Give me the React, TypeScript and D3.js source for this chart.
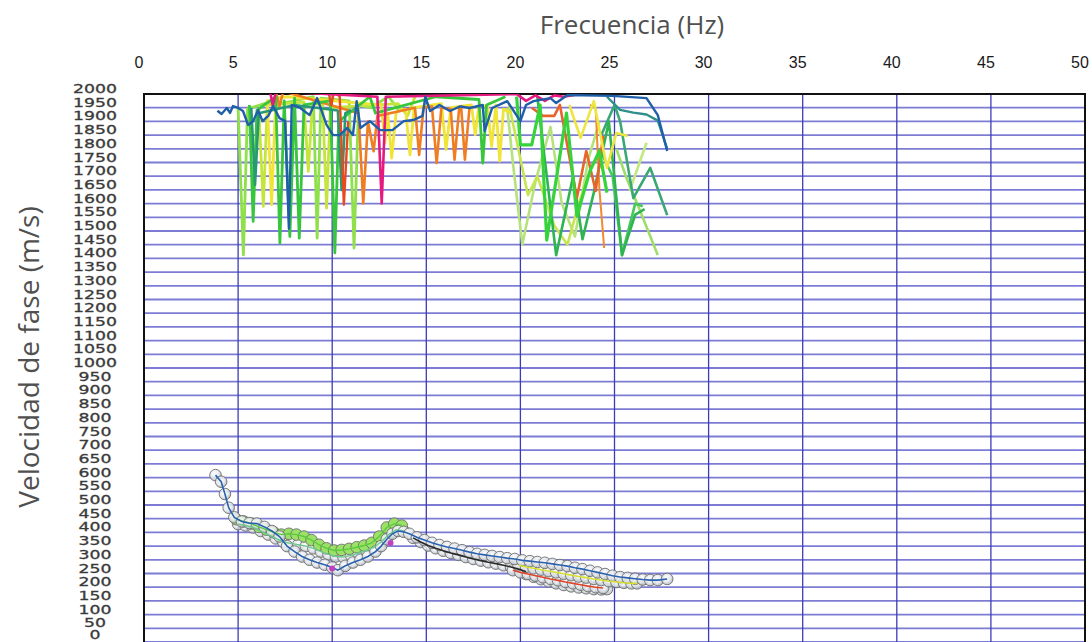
import React from 'react';
import * as d3 from 'd3';

type Pt = [number, number];

const WIDTH = 1092;
const HEIGHT = 642;

// Axis ticks
const freqTicks = [0, 5, 10, 15, 20, 25, 30, 35, 40, 45, 50];

// ---- Upper band: noisy phase-velocity picks (Hz, m/s) ----
const blueTrace: Pt[] = [
  [3.9, 1939], [4.12, 1927], [4.4, 1949], [4.57, 1931], [4.73, 1956], [5.0, 1949], [5.26, 1938],
  [5.53, 1887], [5.8, 1901], [6.06, 1941], [6.3, 1901], [6.6, 1920], [6.86, 1956], [7.2, 1912],
  [7.5, 1901], [7.7, 1508], [7.85, 1960], [8.3, 1949], [8.8, 1923], [9.2, 1985], [9.7, 1887],
  [10.05, 1850], [10.4, 1850], [10.8, 1876], [11.1, 1850], [11.3, 1974], [11.5, 1876], [12.0, 1901],
  [12.55, 1868], [13.2, 1868], [13.8, 1901], [14.3, 1905], [14.8, 1920], [14.95, 1990], [15.2, 1938],
  [15.7, 1960], [16.25, 1938], [16.8, 1955], [17.3, 1949], [18.0, 1960], [18.1, 1865], [18.5, 1949],
  [19.3, 1974], [20.0, 1901], [20.3, 1960], [20.7, 1974], [21.6, 1985], [21.9, 1967], [22.5, 1996],
  [24.9, 1993], [26.7, 1985], [27.3, 1923], [27.8, 1792],
];
const tealTrace: Pt[] = [
  [24.6, 1990], [25.3, 1942], [26.0, 1932], [26.7, 1925], [27.3, 1903], [27.8, 1800],
];
const lightGreenTrace: Pt[] = [
  [5.0, 1950], [5.28, 1413], [5.5, 1945], [6.6, 1970], [7.0, 1960], [9.0, 1990], [9.2, 1474],
  [9.4, 1985], [10.9, 1975], [11.16, 1438], [11.4, 1960], [12.0, 1950], [13.0, 1990], [13.6, 1935],
];
const greenTrace: Pt[] = [
  [5.6, 1960], [5.8, 1535], [6.0, 1940], [7.0, 1990], [7.22, 1456], [7.45, 1975], [7.75, 1480],
  [8.0, 1985], [8.25, 1474], [8.5, 1960], [9.9, 1975], [10.14, 1420], [10.35, 1900], [12.0, 1990],
  [12.3, 1930], [15.5, 1990], [17.8, 1980], [18.0, 1748], [18.2, 1960], [19.2, 1990],
];
const darkGreenTrace: Pt[] = [
  [5.7, 1950], [5.9, 1669], [6.1, 1930], [8.0, 1960], [10.3, 1940], [10.5, 1650], [10.7, 1930],
  [11.0, 1940],
];
const yellowGreenTrace: Pt[] = [
  [6.1, 1950], [6.34, 1590], [6.55, 1960], [8.5, 1970], [8.73, 1718], [8.95, 1965], [9.5, 1960],
  [9.7, 1584], [9.9, 1950], [13.5, 1965], [14.0, 1920], [14.4, 1990],
];
const yellowTrace: Pt[] = [
  [6.55, 1980], [6.78, 1596], [7.0, 1985], [7.6, 1990], [12.6, 1960], [12.8, 1821], [12.95, 1930],
  [13.16, 1766], [13.4, 1935], [13.9, 1945], [14.13, 1778], [14.35, 1950], [15.8, 1965],
  [16.05, 1797], [16.3, 1950], [17.4, 1960], [17.6, 1851], [17.8, 1960], [18.25, 1955],
  [18.47, 1809], [18.7, 1960], [18.9, 1755], [19.1, 1945], [19.5, 1930],
];
const orangeTrace: Pt[] = [
  [7.0, 2010], [7.2, 1955], [7.4, 2010], [11.4, 1930], [11.65, 1601], [11.9, 1900], [12.2, 1791],
  [12.4, 1920], [14.4, 1950], [14.62, 1778], [14.85, 1950], [15.3, 1955], [15.55, 1748],
  [15.8, 1950], [16.3, 1945], [16.5, 1760], [16.75, 1950], [16.85, 1955], [17.05, 1760],
  [17.3, 1955],
];
const redTrace: Pt[] = [
  [9.8, 2010], [9.95, 1960], [10.1, 2010], [10.4, 1990], [10.62, 1596], [10.85, 1900],
];
const magentaTrace: Pt[] = [
  [6.7, 2010], [6.85, 1955], [7.0, 2010], [12.4, 1990], [12.63, 1601], [12.85, 1990],
  [19.8, 2000], [20.3, 1975], [20.8, 1995], [21.3, 1975], [21.8, 1995], [22.3, 1990], [23.0, 1998],
];
// Traces between 19 and 28 Hz
const paleGreenTrace: Pt[] = [
  [19.3, 1950], [19.6, 1750], [20.1, 1450], [20.8, 1680], [21.6, 1880], [22.2, 1600],
  [22.9, 1480], [23.6, 1760], [24.2, 1900],
];
const brightGreenTrace: Pt[] = [
  [19.8, 1990], [20.0, 1814], [20.6, 1814], [21.05, 1960], [21.4, 1467], [22.45, 1930],
  [23.0, 1555], [23.7, 1720], [24.2, 1792], [24.6, 1640],
];
const midGreenTrace: Pt[] = [
  [20.9, 1990], [21.9, 1412], [22.8, 1700], [23.3, 1470], [23.9, 1640], [24.7, 1900],
  [25.4, 1412], [26.1, 1560], [26.6, 1580],
];
const limeTrace: Pt[] = [
  [19.4, 1960], [20.4, 1631], [20.9, 1700], [21.8, 1520], [22.5, 1450], [23.1, 1600], [23.6, 1700],
];
const orangeRedTrace: Pt[] = [
  [20.6, 1950], [21.2, 1920], [21.8, 1920], [22.1, 1960], [23.0, 1620], [23.5, 1792],
  [24.0, 1646], [24.4, 1847],
];
const thinOrangeTrace: Pt[] = [
  [23.7, 1960], [24.0, 1949], [24.2, 1650], [24.45, 1438],
];
const yellowLateTrace: Pt[] = [
  [22.6, 1960], [23.2, 1840], [23.9, 1974], [24.6, 1730], [25.1, 1858], [25.7, 1847],
];
const seaGreenTrace: Pt[] = [
  [24.3, 1850], [25.0, 1960], [25.3, 1900], [26.0, 1620], [26.9, 1730], [27.8, 1558],
];
const grassTrace: Pt[] = [
  [24.2, 1800], [24.9, 1700], [25.4, 1412], [26.1, 1600], [26.5, 1590],
];
const springTrace: Pt[] = [
  [25.1, 1800], [25.6, 1700], [26.3, 1584], [27.3, 1412],
];
const paleLimeTrace: Pt[] = [
  [25.8, 1646], [26.7, 1822],
];

// ---- Lower band: dispersion curves picked with circle markers ----
const freqMain = [3.8, 4.1, 4.3, 4.5, 4.8, 5.2, 5.6, 6.0, 6.4, 6.8, 7.2, 7.6, 8.0, 8.4, 8.8, 9.2, 9.6,
  10.0, 10.3, 10.7, 11.1, 11.5, 11.9, 12.3, 12.6, 12.9, 13.2, 13.5, 13.8, 14.1, 14.5, 14.9, 15.3,
  15.7, 16.1, 16.5, 16.9, 17.3, 17.7, 18.1, 18.5, 18.9, 19.3, 19.7, 20.1, 20.5, 20.9, 21.3, 21.7,
  22.1, 22.5, 22.9, 23.3, 23.7, 24.1, 24.5, 24.9, 25.3, 25.7, 26.1, 26.5, 26.9, 27.3, 27.8];
const velMain = [609, 585, 540, 490, 455, 440, 434, 432, 420, 405, 385, 350, 330, 312, 300, 290, 282,
  272, 262, 278, 290, 300, 312, 330, 350, 375, 395, 405, 402, 395, 382, 372, 362,
  354, 347, 341, 335, 328, 322, 318, 314, 310, 306, 303, 298, 295, 292, 289, 285,
  281, 277, 271, 266, 260, 254, 248, 242, 237, 234, 231, 228, 226, 226, 230];

const freqUpperAlt = [4.9, 5.3, 5.7, 6.1, 6.5, 6.9, 7.3, 7.7, 8.1, 8.5, 8.9, 9.3, 9.7, 10.1, 10.5, 10.9,
  11.3, 11.7, 12.1, 12.5, 12.9, 13.3, 13.7];
const velUpperAlt = [448, 440, 432, 420, 410, 400, 392, 395, 392, 385, 372, 355, 342, 334, 336, 340,
  346, 352, 362, 385, 418, 432, 425];

const freqMidAlt = [5.0, 5.4, 5.8, 6.2, 6.6, 7.0, 7.4, 7.8, 8.2, 8.6, 9.0, 9.4, 9.8, 10.2, 10.6, 11.0,
  11.4, 11.8, 12.2, 12.6, 13.0, 13.4, 13.8];
const velMidAlt = [430, 425, 418, 405, 392, 378, 365, 360, 355, 350, 342, 330, 320, 312, 310, 316,
  324, 334, 345, 365, 392, 410, 405];

const freqDark = [14.3, 14.7, 15.1, 15.5, 15.9, 16.3, 16.7, 17.1, 17.5, 17.9, 18.3, 18.7, 19.1, 19.5,
  19.9, 20.3];
const velDark = [380, 365, 352, 342, 333, 325, 318, 310, 303, 297, 291, 286, 280, 274, 266, 256];

const freqRed = [19.6, 20.0, 20.4, 20.8, 21.2, 21.6, 22.0, 22.4, 22.8, 23.2, 23.6, 24.0, 24.4];
const velRed = [262, 254, 248, 242, 236, 230, 225, 219, 214, 209, 204, 200, 197];

const freqYellow = [19.9, 20.3, 20.7, 21.1, 21.5, 21.9, 22.3, 22.7, 23.1, 23.5, 23.9, 24.3, 24.7, 25.1,
  25.5, 25.9, 26.2];
const velYellow = [280, 274, 269, 264, 259, 254, 249, 244, 239, 235, 230, 226, 222, 219, 216, 214, 214];

const freqLow = [20.3, 20.7, 21.1, 21.5, 21.9, 22.3, 22.7, 23.1, 23.5, 23.9, 24.3, 24.6];
const velLow = [248, 238, 229, 221, 214, 208, 203, 199, 196, 193, 192, 193];

// Isolated magenta picks
const freqMagentaDots = [10.0, 13.1];
const velMagentaDots = [268, 361];

const zip = (f: number[], v: number[]): Pt[] => f.map((x, i) => [x, v[i]]);

export default function App() {
  const x = d3.scaleLinear().domain([0, 50]).range([144, 1085]);
  const y = d3.scaleLinear().domain([0, 2000]).range([642, 94]);
  const velTicks = y.ticks(40);

  const line = d3.line<Pt>().x((d) => x(d[0])).y((d) => y(d[1]));

  const upperTraces: { data: Pt[]; color: string; w: number }[] = [
    { data: paleGreenTrace, color: '#b6e27c', w: 2.6 },
    { data: limeTrace, color: '#c6e54e', w: 2.6 },
    { data: paleLimeTrace, color: '#c2e880', w: 2.6 },
    { data: springTrace, color: '#9fde66', w: 2.6 },
    { data: grassTrace, color: '#47c85a', w: 2.6 },
    { data: seaGreenTrace, color: '#39a874', w: 2.6 },
    { data: midGreenTrace, color: '#2fb452', w: 2.6 },
    { data: thinOrangeTrace, color: '#f08a30', w: 2 },
    { data: orangeRedTrace, color: '#e8642a', w: 2.6 },
    { data: yellowLateTrace, color: '#eee640', w: 2.6 },
    { data: brightGreenTrace, color: '#36d43a', w: 3.2 },
    { data: lightGreenTrace, color: '#8fe04a', w: 2.8 },
    { data: yellowGreenTrace, color: '#c5e53c', w: 2.8 },
    { data: yellowTrace, color: '#f0e436', w: 2.8 },
    { data: orangeTrace, color: '#ef7d22', w: 2.6 },
    { data: greenTrace, color: '#38c63c', w: 2.8 },
    { data: darkGreenTrace, color: '#279a72', w: 2.6 },
    { data: redTrace, color: '#e64a1e', w: 2.4 },
    { data: magentaTrace, color: '#e5197f', w: 2.6 },
    { data: tealTrace, color: '#2f8f8a', w: 2.4 },
    { data: blueTrace, color: '#1f5fa8', w: 2.4 },
  ];

  const lowerCurves: { data: Pt[]; color: string; fill: string; w: number }[] = [
    { data: zip(freqLow, velLow), color: '#8a8a8a', fill: 'url(#bead)', w: 0 },
    { data: zip(freqDark, velDark), color: '#2a2a2a', fill: 'url(#bead)', w: 1.6 },
    { data: zip(freqRed, velRed), color: '#e0442a', fill: 'url(#bead)', w: 1.6 },
    { data: zip(freqYellow, velYellow), color: '#d6e032', fill: 'url(#bead)', w: 1.6 },
    { data: zip(freqMidAlt, velMidAlt), color: '#6cc890', fill: 'url(#bead)', w: 1.4 },
    { data: zip(freqUpperAlt, velUpperAlt), color: '#5acb3a', fill: '#9ae266', w: 1.4 },
    { data: zip(freqMain, velMain), color: '#2a62b0', fill: 'url(#bead)', w: 1.6 },
  ];

  const magentaDots = zip(freqMagentaDots, velMagentaDots);

  return (
    <svg width={WIDTH} height={HEIGHT} style={{ position: 'fixed', left: 0, top: 0, display: 'block', background: '#fff' }}>
      <defs>
        <clipPath id="plot">
          <rect x={144} y={94} width={941} height={548} />
        </clipPath>
        <radialGradient id="bead" cx="40%" cy="38%" r="65%">
          <stop offset="0%" stopColor="#ffffff" stopOpacity={0.95} />
          <stop offset="60%" stopColor="#e2e7ec" stopOpacity={0.85} />
          <stop offset="100%" stopColor="#a9afb6" stopOpacity={0.9} />
        </radialGradient>
      </defs>

      {/* horizontal grid */}
      {velTicks.map((v) => (
        <line key={'h' + v} x1={144} x2={1085} y1={y(v)} y2={y(v)} stroke="#7c7cd4" strokeWidth={1.8} />
      ))}
      {/* vertical grid */}
      {freqTicks.map((f) => (
        <line key={'v' + f} x1={x(f)} x2={x(f)} y1={94} y2={642} stroke="#3c3cb4" strokeWidth={1.3} />
      ))}

      {/* frame */}
      <line x1={144} x2={1086} y1={94} y2={94} stroke="#111" strokeWidth={2} />
      <line x1={144} x2={144} y1={93} y2={642} stroke="#111" strokeWidth={2} />
      <line x1={1085} x2={1085} y1={93} y2={642} stroke="#111" strokeWidth={2} />

      {/* upper band traces */}
      <g clipPath="url(#plot)" fill="none" strokeLinejoin="round">
        {upperTraces.map((t, i) => (
          <path key={'u' + i} d={line(t.data) ?? ''} stroke={t.color} strokeWidth={t.w} />
        ))}
      </g>

      {/* lower band dispersion curves */}
      <g clipPath="url(#plot)">
        {lowerCurves.map((c, i) => (
          <g key={'c' + i}>
            {c.data.map((d, j) => (
              <circle key={j} cx={x(d[0])} cy={y(d[1])} r={5.8} fill={c.fill} stroke="#6e6e6e" strokeWidth={0.9} />
            ))}
          </g>
        ))}
        {lowerCurves.map((c, i) =>
          c.w > 0 ? (
            <path key={'l' + i} d={line(c.data) ?? ''} fill="none" stroke={c.color} strokeWidth={c.w} />
          ) : null
        )}
        {magentaDots.map((d, i) => (
          <circle key={'m' + i} cx={x(d[0])} cy={y(d[1])} r={3} fill="#c040c0" />
        ))}
      </g>

      {/* x tick labels (top) */}
      {freqTicks.map((f) => (
        <text key={'xt' + f} x={x(f) - 5} y={68} textAnchor="middle" fontFamily="Liberation Sans, Arial, sans-serif" fontSize={16} fill="#1a1a1a">
          {f}
        </text>
      ))}

      {/* y tick labels, vertically condensed */}
      {velTicks.map((v) => (
        <text key={'yt' + v} transform={`translate(95,${Math.min(y(v) - 1, 639)}) scale(1.08,0.78)`} textAnchor="middle" fontFamily="DejaVu Sans, sans-serif" fontSize={16} fill="#3a3a3a" stroke="#3a3a3a" strokeWidth={0.4}>
          {v}
        </text>
      ))}

      {/* titles */}
      <text x={632} y={34} textAnchor="middle" fontFamily="Open Sans, sans-serif" fontSize={26} fill="#505050">
        Frecuencia (Hz)
      </text>
      <text transform="translate(39,357) rotate(-90)" textAnchor="middle" fontFamily="Open Sans, sans-serif" fontSize={28} fill="#505050">
        Velocidad de fase (m/s)
      </text>
    </svg>
  );
}
